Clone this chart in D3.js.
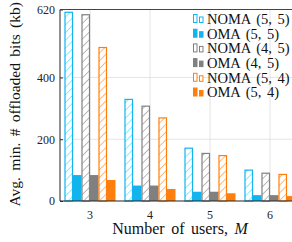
<!DOCTYPE html>
<html>
<head>
<meta charset="utf-8">
<script src="https://cdn.jsdelivr.net/npm/d3@7"></script>
<style>
  body { margin: 0; background: #fff; }
  svg { display: block; font-family: 'Liberation Serif', 'DejaVu Serif', serif; }
</style>
</head>
<body>
<div id="chart"></div>
<script>
// number of users on the x axis
const users = [3, 4, 5, 6];
const seriesNames = ['NOMA (5, 5)', 'OMA (5, 5)', 'NOMA (4, 5)', 'OMA (4, 5)', 'NOMA (5, 4)', 'OMA (5, 4)'];
const nomaFiveFive = [611, 329, 171, 100];
const omaFiveFive = [84, 50, 30, 19];
const nomaFourFive = [603, 307, 154, 90];
const omaFourFive = [84, 50, 30, 19];
const nomaFiveFour = [497, 269, 147, 86];
const omaFiveFour = [68, 39, 25, 16];
const yTicks = [0, 200, 400, 620];

const seriesValues = [nomaFiveFive, omaFiveFive, nomaFourFive, omaFourFive, nomaFiveFour, omaFiveFour];
const seriesColors = ['#12b4ee', '#12b4ee', '#808080', '#808080', '#ff7f0e', '#ff7f0e'];
const hatched = [true, false, true, false, true, false];

const width = 292, height = 242;
const margin = { top: 9.5, left: 60, bottom: 41, right: -8 };
const plotW = width - margin.left - margin.right;
const plotH = height - margin.top - margin.bottom;

const svg = d3.select('#chart').append('svg')
  .attr('width', width)
  .attr('height', height);

// hatch patterns for the NOMA bars
const defs = svg.append('defs');
seriesColors.forEach((c, i) => {
  if (!hatched[i]) return;
  const p = defs.append('pattern')
    .attr('id', 'hatch' + i)
    .attr('patternUnits', 'userSpaceOnUse')
    .attr('width', 5.5)
    .attr('height', 5.5)
    .attr('patternTransform', 'rotate(45)');
  p.append('rect').attr('width', 5.5).attr('height', 5.5).attr('fill', '#fff');
  p.append('line')
    .attr('x1', 0).attr('y1', 0).attr('x2', 0).attr('y2', 5.5)
    .attr('stroke', i === 0 ? '#2fdcff' : c)
    .attr('stroke-width', 1.1);
});

const g = svg.append('g').attr('transform', `translate(${margin.left},${margin.top})`);

const x0 = d3.scaleBand().domain(users).range([0, plotW]).paddingInner(0.15).paddingOuter(0.075);
const x1 = d3.scaleBand().domain(d3.range(seriesNames.length)).range([0, x0.bandwidth()]);
const y = d3.scaleLinear().domain([0, 620]).range([plotH, 0]);

// grid
g.append('g').selectAll('line.h')
  .data(yTicks.filter(t => t > 0 && t < 620))
  .join('line')
  .attr('x1', 0).attr('x2', plotW)
  .attr('y1', d => y(d)).attr('y2', d => y(d))
  .attr('stroke', '#e4e4e4').attr('stroke-width', 1);
g.append('g').selectAll('line.v')
  .data(users)
  .join('line')
  .attr('x1', d => x0(d) + x0.bandwidth() / 2).attr('x2', d => x0(d) + x0.bandwidth() / 2)
  .attr('y1', 0).attr('y2', plotH)
  .attr('stroke', '#e4e4e4').attr('stroke-width', 1);

// bars
const groups = g.append('g').selectAll('g')
  .data(users)
  .join('g')
  .attr('transform', d => `translate(${x0(d)},0)`);

groups.selectAll('rect')
  .data((u, ui) => seriesValues.map((vals, si) => ({ si, v: vals[ui] })))
  .join('rect')
  .attr('x', d => x1(d.si) + (hatched[d.si] ? 0.5 : 0))
  .attr('width', d => x1.bandwidth() - (hatched[d.si] ? 1 : 0))
  .attr('y', d => y(d.v))
  .attr('height', d => plotH - y(d.v))
  .attr('fill', d => hatched[d.si] ? `url(#hatch${d.si})` : seriesColors[d.si])
  .attr('stroke', d => hatched[d.si] ? seriesColors[d.si] : 'none')
  .attr('stroke-width', 1.2);

// axes
const yAxis = g.append('g').call(d3.axisLeft(y).tickValues(yTicks).tickSize(-3).tickPadding(5));
yAxis.select('.domain').remove();
yAxis.selectAll('text').attr('font-size', 12).attr('font-family', 'Liberation Serif, serif').attr('fill', '#222');
yAxis.selectAll('line').attr('stroke', '#333');

const xAxis = g.append('g').attr('transform', `translate(0,${plotH})`)
  .call(d3.axisBottom(x0).tickSize(0).tickPadding(9));
xAxis.select('.domain').remove();
xAxis.selectAll('text').attr('font-size', 12).attr('font-family', 'Liberation Serif, serif').attr('fill', '#222');

// frame
g.append('line').attr('x1', 0).attr('x2', 0).attr('y1', 0).attr('y2', plotH).attr('stroke', '#222');
g.append('line').attr('x1', 0).attr('x2', plotW).attr('y1', plotH).attr('y2', plotH).attr('stroke', '#222');
g.append('line').attr('x1', 0).attr('x2', plotW).attr('y1', 0).attr('y2', 0).attr('stroke', '#444');

// legend
const legend = svg.append('g').attr('transform', 'translate(193,19)');
seriesNames.forEach((name, i) => {
  const row = legend.append('g').attr('transform', `translate(0,${i * 14.7})`);
  const fill = hatched[i] ? '#fff' : seriesColors[i];
  row.append('rect').attr('x', 0.5).attr('y', -4.5).attr('width', 3.5).attr('height', 8)
    .attr('fill', fill).attr('stroke', seriesColors[i]).attr('stroke-width', 1);
  row.append('rect').attr('x', 6.5).attr('y', -2).attr('width', 3.5).attr('height', 5.5)
    .attr('fill', fill).attr('stroke', seriesColors[i]).attr('stroke-width', 1);
  row.append('text').attr('x', 14).attr('y', 4.8)
    .attr('font-size', 14.5).attr('fill', '#111')
    .attr('word-spacing', 2)
    .text(name);
});

// axis labels
svg.append('text')
  .attr('transform', `translate(20,${margin.top + plotH / 2 - 1}) rotate(-90)`)
  .attr('text-anchor', 'middle')
  .attr('font-size', 15.5)
  .attr('fill', '#111')
  .attr('word-spacing', 2.5)
  .text('Avg. min. # offloaded bits (kb)');

const xl = svg.append('text')
  .attr('x', margin.left + plotW / 2)
  .attr('y', 234)
  .attr('text-anchor', 'middle')
  .attr('font-size', 16)
  .attr('fill', '#111')
  .attr('word-spacing', 2.5);
xl.append('tspan').text('Number of users, ');
xl.append('tspan').attr('font-style', 'italic').text('M');
</script>
</body>
</html>
